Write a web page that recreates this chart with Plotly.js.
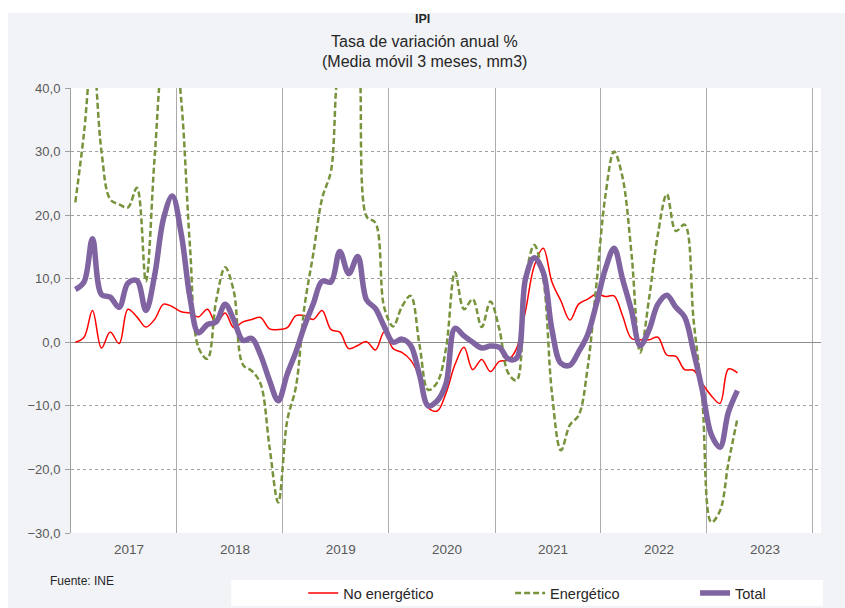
<!DOCTYPE html>
<html><head><meta charset="utf-8">
<script src="https://cdn.plot.ly/plotly-3.0.1.min.js"></script>
<style>
html,body{margin:0;padding:0;background:#ffffff;width:845px;height:608px;overflow:hidden;}
#chart{position:absolute;left:8px;top:13px;width:837px;height:595px;}
</style></head><body><div id="chart"></div>
<script>
const months = [
'2017-01-16','2017-02-15','2017-03-16','2017-04-16','2017-05-16','2017-06-16','2017-07-16','2017-08-16','2017-09-16','2017-10-16','2017-11-16','2017-12-16',
'2018-01-16','2018-02-15','2018-03-16','2018-04-16','2018-05-16','2018-06-16','2018-07-16','2018-08-16','2018-09-16','2018-10-16','2018-11-16','2018-12-16',
'2019-01-16','2019-02-15','2019-03-16','2019-04-16','2019-05-16','2019-06-16','2019-07-16','2019-08-16','2019-09-16','2019-10-16','2019-11-16','2019-12-16',
'2020-01-16','2020-02-15','2020-03-16','2020-04-16','2020-05-16','2020-06-16','2020-07-16','2020-08-16','2020-09-16','2020-10-16','2020-11-16','2020-12-16',
'2021-01-16','2021-02-15','2021-03-16','2021-04-16','2021-05-16','2021-06-16','2021-07-16','2021-08-16','2021-09-16','2021-10-16','2021-11-16','2021-12-16',
'2022-01-16','2022-02-15','2022-03-16','2022-04-16','2022-05-16','2022-06-16','2022-07-16','2022-08-16','2022-09-16','2022-10-16','2022-11-16','2022-12-16',
'2023-01-16','2023-02-15','2023-03-16','2023-04-16'
];
const noEnergetico = [
0.0,0.8,5.0,-0.9,1.6,-0.2,5.2,4.0,2.4,3.6,6.0,5.6,
4.8,4.6,4.0,5.2,3.0,4.6,2.3,3.2,3.6,3.9,2.1,2.0,
2.3,4.2,4.2,3.6,5.0,2.0,1.6,-1.0,-0.5,0.1,-1.2,1.6,
-1.0,-1.6,-2.8,-5.5,-10.3,-10.8,-8.0,-3.5,-0.8,-4.3,-2.7,-4.6,
-3.0,-2.8,-1.0,5.0,12.0,14.8,9.5,6.5,3.5,6.0,6.8,7.6,
7.2,7.3,4.2,0.6,0.4,0.4,0.8,-2.0,-2.2,-4.3,-4.4,-6.5,
-8.4,-9.6,-4.2,-4.8
];
const energetico = [
22.0,33.0,46.0,30.0,22.5,21.7,21.2,24.3,9.6,29.0,46.0,50.0,
38.0,15.0,-0.8,-2.6,6.5,11.8,8.0,-3.5,-4.5,-6.5,-16.5,-25.2,
-12.3,-7.0,5.5,14.0,22.6,27.0,43.0,40.5,44.0,19.8,18.8,5.5,
2.5,5.6,7.3,-0.5,-7.5,-6.3,-1.0,11.0,5.2,6.8,2.4,6.4,
2.0,-4.8,-6.0,10.0,15.3,10.0,-8.0,-17.0,-13.0,-11.5,-4.0,9.0,
23.0,30.0,26.0,14.0,-1.6,7.0,17.0,23.3,17.5,18.5,3.5,-9.0,
-28.3,-26.5,-19.0,-12.0
];
const total = [
8.3,9.5,16.3,7.5,7.1,5.5,9.3,9.7,5.0,10.5,19.5,23.0,
17.0,7.0,1.5,2.8,3.2,6.0,3.5,0.3,0.6,-2.0,-6.0,-9.2,
-5.0,-1.5,2.5,6.1,9.6,9.5,14.3,10.8,13.5,6.7,5.3,2.5,
0.0,0.5,-0.5,-5.2,-10.0,-9.2,-6.5,2.2,1.0,0.0,-0.9,-0.6,
-0.8,-2.6,-2.5,10.0,13.3,11.0,2.0,-3.3,-3.6,-1.5,1.2,6.0,
11.5,14.8,10.0,5.0,-0.5,2.0,6.0,7.4,5.5,4.0,-1.5,-7.5,
-14.5,-16.5,-11.0,-7.6
];
const seriesNames = ['No energético','Energético','Total'];
const titleLines = ['IPI','Tasa de variación anual %','(Media móvil 3 meses, mm3)'];
const sourceText = 'Fuente: INE';

// page-pixel -> paper helpers (plot area in page coords)
const PL=70.7, PR=821, PT=88.3, PB=533;
const px = x => (x-PL)/(PR-PL);
const py = y => (PB-y)/(PB-PT);

const FONT = 'Liberation Sans, Arial, sans-serif';

const traces = [
  {x: months, y: noEnergetico, name: seriesNames[0], type:'scatter', mode:'lines',
   line:{color:'#FF0000', width:1.5, shape:'spline', smoothing:1}, legend:'legend'},
  {x: months, y: energetico, name: seriesNames[1], type:'scatter', mode:'lines',
   line:{color:'#77933C', width:2.5, dash:'6px,3px', shape:'spline', smoothing:1}, legend:'legend2'},
  {x: months, y: total, name: seriesNames[2], type:'scatter', mode:'lines',
   line:{color:'#8064A2', width:5.5, shape:'spline', smoothing:1}, legend:'legend3'}
];

const legBase = {orientation:'h', xanchor:'left', yanchor:'middle', bgcolor:'rgba(0,0,0,0)',
  font:{family:FONT, size:14.5, color:'#262626'}, y: py(593)};

const layout = {
  width: 837, height: 595,
  margin:{l:PL-8, r:837-(PR-8), t:PT-13, b:595-(PB-13), pad:0, autoexpand:false},
  paper_bgcolor:'#F2F3F7', plot_bgcolor:'#FFFFFF',
  separators: ',.',
  font:{family:FONT, color:'#404040'},
  showlegend:true,
  legend: Object.assign({}, legBase, {x: px(303)}),
  legend2: Object.assign({}, legBase, {x: px(510)}),
  legend3: Object.assign({}, legBase, {x: px(695)}),
  xaxis:{type:'date', range:['2017-01-01','2024-01-29'], tickmode:'linear', tick0:'2017-01-01', dtick:'M12',
    ticklabelmode:'period', tickformat:'%Y', showgrid:true, gridcolor:'#ABABAB', gridwidth:1,
    ticks:'', showline:false, zeroline:false, ticklabelshift:5, ticklabelstandoff:6,
    tickfont:{family:FONT, size:13.5, color:'#595959'}},
  yaxis:{range:[-30,40], tickmode:'linear', tick0:0, dtick:10, tickformat:'.1f',
    showgrid:true, gridcolor:'#A0A0A0', griddash:'dot', gridwidth:1,
    zeroline:true, zerolinecolor:'#8C8C8C', zerolinewidth:1,
    showline:true, linecolor:'#A0A0A0', linewidth:1,
    ticks:'outside', ticklen:5, tickcolor:'#A0A0A0', ticklabelstandoff:2,
    tickfont:{family:FONT, size:13, color:'#595959'}},
  shapes:[
    {type:'rect', xref:'paper', yref:'paper', x0:px(231), x1:px(823), y0:py(606), y1:py(580),
     fillcolor:'#FFFFFF', line:{width:0}, layer:'below'}
  ],
  annotations:[
    {text:'<b>'+titleLines[0]+'</b>', xref:'paper', yref:'paper', x:px(422), y:py(19), showarrow:false,
     xanchor:'center', yanchor:'middle', font:{family:FONT, size:12.5, color:'#262626'}},
    {text:titleLines[1], xref:'paper', yref:'paper', x:px(424), y:py(42), showarrow:false,
     xanchor:'center', yanchor:'middle', font:{family:FONT, size:16, color:'#262626'}},
    {text:titleLines[2], xref:'paper', yref:'paper', x:px(424), y:py(62), showarrow:false,
     xanchor:'center', yanchor:'middle', font:{family:FONT, size:16, color:'#262626'}},
    {text:sourceText, xref:'paper', yref:'paper', x:px(48), y:py(581), showarrow:false,
     xanchor:'left', yanchor:'middle', font:{family:FONT, size:12, color:'#262626'}}
  ]
};

Plotly.newPlot('chart', traces, layout, {displayModeBar:false, staticPlot:true});
</script></body></html>
